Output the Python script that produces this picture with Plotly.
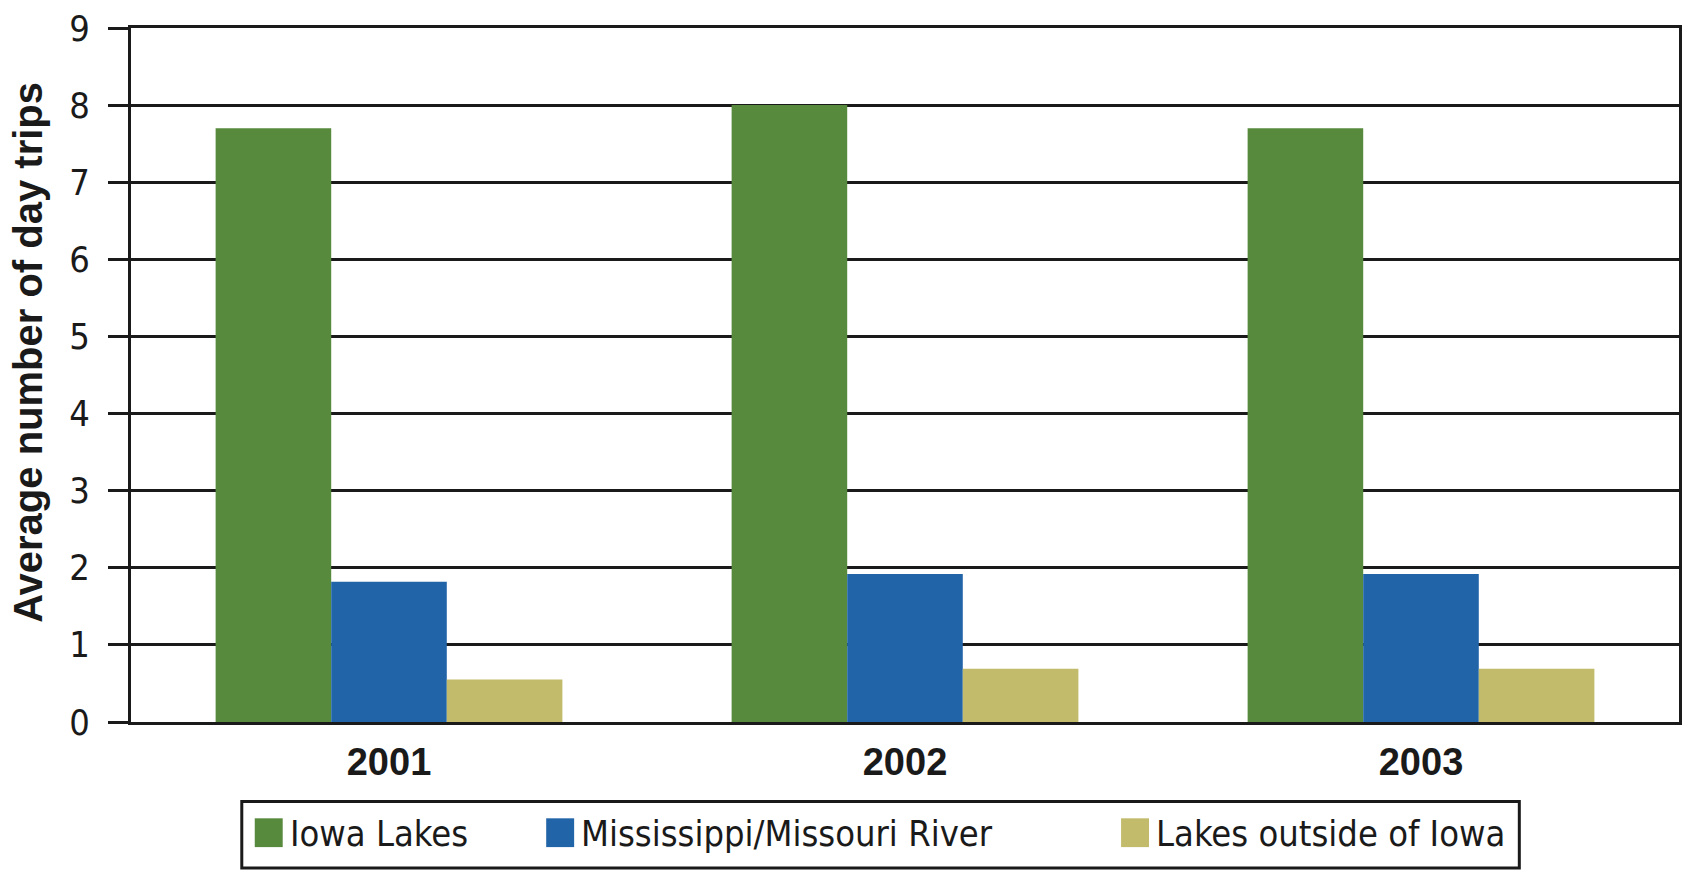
import plotly.graph_objects as go

# Average number of day trips by destination, per survey year
years = ["2001", "2002", "2003"]
series_names = ["Iowa Lakes", "Mississippi/Missouri River", "Lakes outside of Iowa"]
iowa_lakes = [7.7, 8.0, 7.7]
river = [1.82, 1.92, 1.92]
outside_lakes = [0.55, 0.69, 0.69]
series_colors = ["#588A3D", "#2264A8", "#C2BB6C"]
y_ticks = [0, 1, 2, 3, 4, 5, 6, 7, 8, 9]

NARROW = "Liberation Sans Narrow, Arial Narrow, DejaVu Sans Condensed, sans-serif"
BOLD = "Liberation Sans, Arial, Helvetica, sans-serif"

fig = go.Figure()
for name, vals, col in zip(series_names, [iowa_lakes, river, outside_lakes], series_colors):
    fig.add_trace(go.Bar(x=years, y=vals, name=name, marker=dict(color=col, line=dict(width=0)),
                         showlegend=False))

W, H = 1690, 871
ML, MR, MT, MB = 131, 8, 23, 149
pw, ph = W - ML - MR, H - MT - MB


def px(xp):
    return (xp - ML) / pw


def py(yp):
    return (H - MB - yp) / ph


fig.update_layout(
    width=W, height=H,
    margin=dict(l=ML, r=MR, t=MT, b=MB),
    paper_bgcolor="white", plot_bgcolor="white",
    barmode="group", bargap=0.328, bargroupgap=0,
    font=dict(family=NARROW, color="#1a1a1a"),
    xaxis=dict(
        type="category", showline=True, linecolor="#1a1a1a", linewidth=3, mirror=True,
        ticks="", showgrid=False,
        tickfont=dict(family=BOLD, size=38, color="#1a1a1a", weight="bold"),
        ticklabelstandoff=4,
    ),
    yaxis=dict(
        range=[0, 9], tickvals=y_ticks, showline=True, linecolor="#1a1a1a", linewidth=3, mirror=True,
        ticks="outside", ticklen=20, tickwidth=3, tickcolor="#1a1a1a",
        showgrid=True, gridcolor="#1a1a1a", gridwidth=3, zeroline=False,
        tickfont=dict(family=NARROW, size=36, color="#1a1a1a"),
        ticklabelstandoff=11,
    ),
)

# axis title
fig.add_annotation(
    text="Average number of day trips", textangle=-90,
    xref="paper", yref="paper", x=px(27), y=py(350), xanchor="center", yanchor="middle",
    showarrow=False, font=dict(family=BOLD, size=40, color="#1a1a1a", weight="bold"),
)

# legend box with swatches and labels
fig.add_shape(type="rect", xref="paper", yref="paper",
              x0=px(242), x1=px(1522), y0=py(869), y1=py(802),
              line=dict(color="#1a1a1a", width=3), fillcolor="white", layer="below")
swatch_x = [255, 547, 1123]
for name, col, sx in zip(series_names, series_colors, swatch_x):
    fig.add_shape(type="rect", xref="paper", yref="paper",
                  x0=px(sx), x1=px(sx + 28), y0=py(848), y1=py(819),
                  line=dict(width=0), fillcolor=col)
    fig.add_annotation(text=name, xref="paper", yref="paper", x=px(sx + 33), y=py(834),
                       xanchor="left", yanchor="middle", showarrow=False,
                       font=dict(family=NARROW, size=36, color="#1a1a1a"))

fig.write_html("out.html")
